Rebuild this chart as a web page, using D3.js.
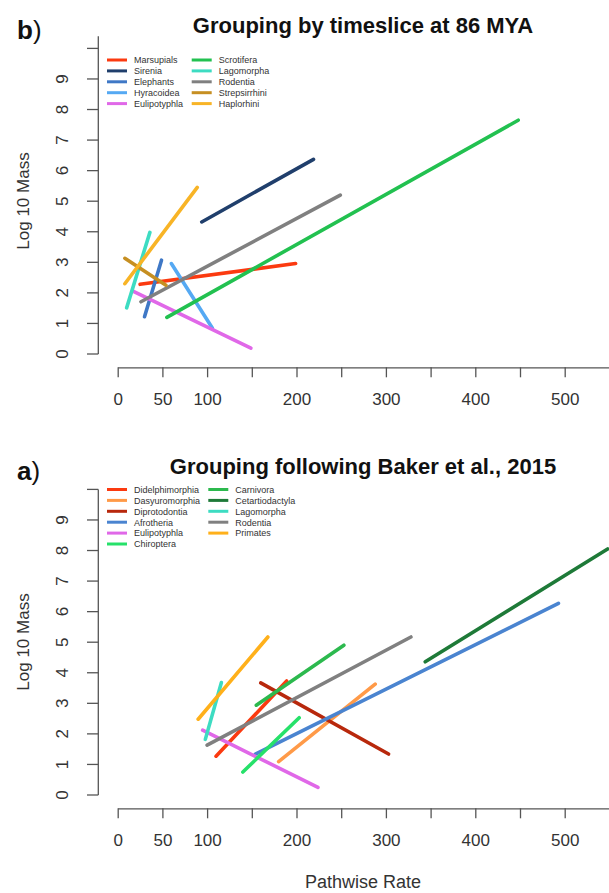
<!DOCTYPE html>
<html>
<head>
<meta charset="utf-8">
<script src="https://cdn.jsdelivr.net/npm/d3@7"></script>
<style>
  body { margin: 0; background: #fff; }
  text { font-family: "Liberation Sans", Arial, sans-serif; }
</style>
</head>
<body>
<script>
const width = 609;
const height = 893;

// x ticks and which ones carry a label
const xTicks = d3.range(0, 551, 50);
const xLabels = [0, 50, 100, 200, 300, 400, 500];
const yTicks = d3.range(0, 11, 1);
const yLabels = [0, 1, 2, 3, 4, 5, 6, 7, 8, 9];

// panel b: timeslice at 86 MYA
const topNames = ['Marsupials', 'Sirenia', 'Elephants', 'Hyracoidea', 'Eulipotyphla',
    'Scrotifera', 'Lagomorpha', 'Rodentia', 'Strepsirrhini', 'Haplorhini'];
const topColors = ['#fb3a10', '#203f6c', '#3f78c6', '#55a9f3', '#e068e8',
    '#22c150', '#3ddcc2', '#808080', '#c68f22', '#f8b426'];
// [x0, y0, x1, y1] in pathwise rate / log10 mass
const topSegments = [
    [25, 2.28, 199, 2.96],
    [94, 4.32, 219, 6.37],
    [30, 1.22, 49, 3.07],
    [60, 2.96, 106, 0.84],
    [17, 2.06, 149, 0.19],
    [55, 1.20, 448, 7.65],
    [10, 1.51, 36, 3.98],
    [26, 1.71, 249, 5.20],
    [8, 3.13, 54, 2.25],
    [8, 2.30, 89, 5.45]
];

// panel a: Baker et al. 2015
const botNames = ['Didelphimorphia', 'Dasyuromorphia', 'Diprotodontia', 'Afrotheria', 'Eulipotyphla',
    'Chiroptera', 'Carnivora', 'Cetartiodactyla', 'Lagomorpha', 'Rodentia', 'Primates'];
const botColors = ['#fb3a10', '#ff9a48', '#b8280c', '#4a84d0', '#e068e8',
    '#26e16a', '#2cb94e', '#1e7a38', '#3ddcc2', '#808080', '#ffb01a'];
const botSegments = [
    [110, 1.27, 189, 3.73],
    [180, 1.09, 288, 3.63],
    [160, 3.67, 303, 1.34],
    [154, 1.34, 493, 6.27],
    [95, 2.12, 224, 0.25],
    [140, 0.75, 203, 2.53],
    [155, 2.94, 253, 4.90],
    [344, 4.36, 548, 8.05],
    [98, 1.82, 116, 3.68],
    [100, 1.63, 328, 5.17],
    [90, 2.48, 168, 5.17]
];

const svg = d3.select('body').append('svg')
    .attr('width', width)
    .attr('height', height);

const xScale = d3.scaleLinear().domain([0, 550]).range([117.7, 609.4]);

function drawPanel(cfg) {
    const g = svg.append('g').attr('transform', `translate(0, ${cfg.dy})`);
    const yScale = d3.scaleLinear().domain([0, 10]).range([354, 48.4]);

    // y axis
    g.append('line')
        .attr('x1', 98.3).attr('x2', 98.3)
        .attr('y1', yScale(0)).attr('y2', yScale(cfg.yTop))
        .attr('stroke', '#555').attr('stroke-width', 1.3);
    g.selectAll('.ytick').data(yTicks).enter().append('line')
        .attr('x1', 87).attr('x2', 98.3)
        .attr('y1', d => yScale(d)).attr('y2', d => yScale(d))
        .attr('stroke', '#555').attr('stroke-width', 1.3);
    g.selectAll('.ylab').data(yLabels).enter().append('text')
        .attr('transform', d => `translate(68, ${yScale(d)}) rotate(-90)`)
        .attr('text-anchor', 'middle')
        .attr('font-size', 17)
        .attr('fill', '#333')
        .text(d => d);
    g.append('text')
        .attr('transform', `translate(29, 201) rotate(-90)`)
        .attr('text-anchor', 'middle')
        .attr('font-size', 17)
        .attr('fill', '#333')
        .text('Log 10 Mass');

    // x axis
    const xAxis = d3.axisBottom(xScale)
        .tickValues(xTicks)
        .tickFormat(d => xLabels.includes(d) ? d : '')
        .tickSize(10)
        .tickSizeOuter(0)
        .tickPadding(16);
    const ax = g.append('g')
        .attr('transform', 'translate(0, 367.3)')
        .call(xAxis);
    ax.select('.domain').attr('stroke', '#555').attr('stroke-width', 1.3);
    ax.selectAll('.tick line').attr('stroke', '#555').attr('stroke-width', 1.3);
    ax.selectAll('.tick text')
        .attr('font-size', 17)
        .attr('font-family', '"Liberation Sans", Arial, sans-serif')
        .attr('fill', '#333');

    // titles
    g.append('text')
        .attr('x', 363).attr('y', 33)
        .attr('text-anchor', 'middle')
        .attr('font-size', 22)
        .attr('font-weight', 'bold')
        .attr('fill', '#111')
        .text(cfg.title);
    const tag = g.append('text')
        .attr('x', 17).attr('y', 39)
        .attr('font-size', 26)
        .attr('fill', '#111');
    tag.append('tspan').attr('font-weight', 'bold').text(cfg.tag);
    tag.append('tspan').text(')');

    // segments
    g.selectAll('.seg').data(cfg.segments).enter().append('line')
        .attr('x1', d => xScale(d[0])).attr('y1', d => yScale(d[1]))
        .attr('x2', d => xScale(d[2])).attr('y2', d => yScale(d[3]))
        .attr('stroke', (d, i) => cfg.colors[i])
        .attr('stroke-width', 3.6)
        .attr('stroke-linecap', 'round');

    // legend
    const leg = g.selectAll('.leg').data(cfg.names).enter().append('g')
        .attr('transform', (d, i) => {
            const col = i < cfg.rows ? 0 : 1;
            const row = i < cfg.rows ? i : i - cfg.rows;
            return `translate(${col === 0 ? 107 : cfg.col2}, ${cfg.legTop + row * 10.9})`;
        });
    leg.append('line')
        .attr('x1', 0).attr('x2', 20)
        .attr('stroke', (d, i) => cfg.colors[i])
        .attr('stroke-width', 3);
    leg.append('text')
        .attr('x', 27).attr('y', 3.3)
        .attr('font-size', 9)
        .attr('fill', '#333')
        .text(d => d);
}

drawPanel({
    dy: 0, title: 'Grouping by timeslice at 86 MYA', tag: 'b', yTop: 10.4,
    names: topNames, colors: topColors, segments: topSegments,
    rows: 5, col2: 191.7, legTop: 60
});
drawPanel({
    dy: 441, title: 'Grouping following Baker et al., 2015', tag: 'a', yTop: 10,
    names: botNames, colors: botColors, segments: botSegments,
    rows: 6, col2: 208.3, legTop: 48.5
});

svg.append('text')
    .attr('x', 363).attr('y', 888)
    .attr('text-anchor', 'middle')
    .attr('font-size', 18)
    .attr('fill', '#333')
    .text('Pathwise Rate');
</script>
</body>
</html>
